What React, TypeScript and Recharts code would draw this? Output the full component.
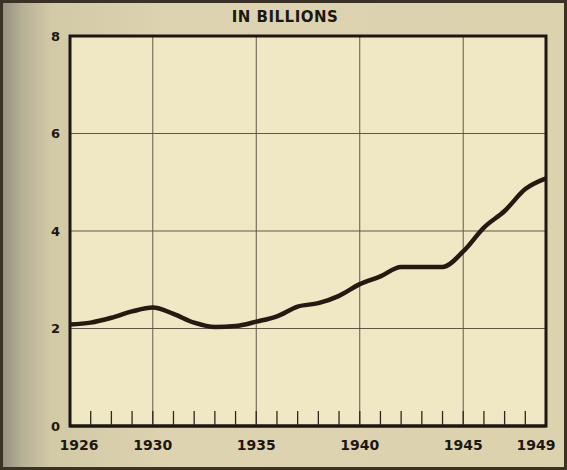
import { LineChart, Line, XAxis, YAxis, CartesianGrid, ReferenceArea } from "recharts";

const years = [
  1926, 1927, 1928, 1929, 1930, 1931, 1932, 1933, 1934, 1935, 1936, 1937,
  1938, 1939, 1940, 1941, 1942, 1943, 1944, 1945, 1946, 1947, 1948, 1949,
];
const billions = [
  2.08, 2.12, 2.22, 2.35, 2.43, 2.3, 2.12, 2.03, 2.05, 2.14, 2.25, 2.45,
  2.52, 2.67, 2.91, 3.07, 3.26, 3.26, 3.26, 3.58, 4.07, 4.41, 4.86, 5.08,
];
const xTicks = [1926, 1930, 1935, 1940, 1945, 1949];
const yTicks = [0, 2, 4, 6, 8];

const data = years.map((year, i) => ({ year, value: billions[i] }));

const INK = "#1d1712";
const FONT = "'DejaVu Sans', sans-serif";

// every year gets a short inward tick; labelled years get their number below
const YearTick = (props: any) => {
  const { x, y, payload } = props;
  const v = payload.value;
  const inner = v !== 1926 && v !== 1949;
  let dx = 0;
  if (v === 1926) dx = 9;
  if (v === 1949) dx = -10;
  return (
    <g>
      {inner && (
        <line x1={x} x2={x} y1={y - 1} y2={y - 15} stroke="#2e271f" strokeWidth={1.3} />
      )}
      {xTicks.includes(v) && (
        <text
          x={x + dx}
          y={y + 24}
          textAnchor="middle"
          fill={INK}
          fontFamily={FONT}
          fontWeight={900}
          fontSize={14}
        >
          {v}
        </text>
      )}
    </g>
  );
};

export default function App() {
  return (
    <div
      style={{
        position: "absolute",
        left: 0,
        top: 0,
        width: 567,
        height: 470,
        overflow: "hidden",
        background:
          "linear-gradient(90deg, #8f8d7c 0%, #b7b197 4%, #d2c9a6 9%, #ddd3b1 30%, #dcd2ae 100%)",
        boxShadow: "inset 0 0 0 3px #3a3226",
      }}
    >
      <div
        style={{
          position: "absolute",
          left: 0,
          width: 570,
          top: 8,
          textAlign: "center",
          fontFamily: FONT,
          fontWeight: 900,
          fontSize: 15,
          color: INK,
          letterSpacing: 0.5,
        }}
      >
        IN BILLIONS
      </div>
      <LineChart
        width={567}
        height={470}
        data={data}
        margin={{ top: 36, right: 21, bottom: 0, left: 36 }}
      >
        <CartesianGrid
          stroke="#5f5848"
          strokeWidth={1}
          fill="#f0e7c5"
          fillOpacity={1}
          verticalValues={xTicks}
          horizontal
        />
        <XAxis
          dataKey="year"
          type="number"
          domain={[1926, 1949]}
          ticks={years}
          interval={0}
          height={44}
          tickSize={0}
          tickMargin={0}
          tick={<YearTick />}
          tickLine={false}
          axisLine={{ stroke: INK, strokeWidth: 3 }}
        />
        <YAxis
          type="number"
          domain={[0, 8]}
          ticks={yTicks}
          interval={0}
          width={34}
          tickLine={false}
          axisLine={false}
          tick={{
            fill: INK,
            fontFamily: FONT,
            fontWeight: 900,
            fontSize: 13,
            dx: -2,
          }}
        />
        <ReferenceArea
          x1={1926}
          x2={1949}
          y1={0}
          y2={8}
          fill="none"
          stroke={INK}
          strokeWidth={3}
        />
        <Line
          type="monotone"
          dataKey="value"
          stroke="#241a12"
          strokeWidth={4.5}
          dot={false}
          isAnimationActive={false}
        />
      </LineChart>
    </div>
  );
}
